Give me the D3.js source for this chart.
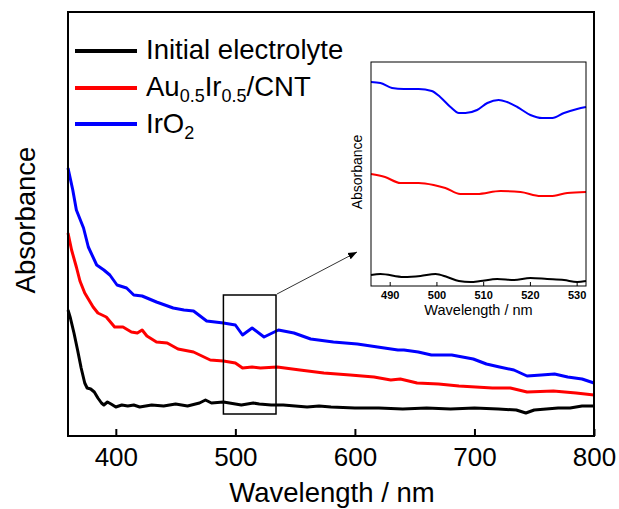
<!DOCTYPE html>
<html><head><meta charset="utf-8">
<script src="https://cdn.jsdelivr.net/npm/d3@7"></script>
<style>body{margin:0;background:#fff}svg{display:block;font-family:"Liberation Sans",Arial,sans-serif}</style>
</head><body><svg id="c" width="619" height="509"></svg>
<script>
// ---- data ----
const seriesNames = ["Initial electrolyte", "Au0.5Ir0.5/CNT", "IrO2"];
const seriesColors = ["#000000", "#ff0000", "#0000ff"];
const xTicks = [400, 500, 600, 700, 800];
const insetTicks = [490, 500, 510, 520, 530];

const blackWl = [360,362,365,368,371,374,376,379,382,385,388,390,393,396,400,405,410,415,420,425,430,440,450,460,470,475,480,490,500,505,510,515,520,530,540,550,560,570,580,600,620,640,660,680,700,720,735,743,750,760,770,780,790,800];
const blackAbs = [1.26,1.18,1.03,0.86,0.68,0.53,0.48,0.47,0.44,0.38,0.33,0.31,0.34,0.32,0.29,0.31,0.30,0.31,0.29,0.30,0.31,0.30,0.32,0.30,0.33,0.36,0.33,0.34,0.32,0.31,0.32,0.33,0.32,0.31,0.31,0.30,0.29,0.30,0.29,0.28,0.28,0.27,0.28,0.27,0.28,0.27,0.26,0.23,0.26,0.27,0.28,0.28,0.30,0.30];

const redWl = [360,363,367,370,374,378,381,385,392,399,406,413,418,422,426,434,443,452,465,479,490,500,506,514,521,535,554,574,596,616,630,638,652,670,687,715,730,744,766,785,800];
const redAbs = [2.03,1.86,1.69,1.55,1.43,1.35,1.29,1.23,1.19,1.09,1.09,1.04,1.03,1.06,1.00,0.94,0.93,0.87,0.84,0.76,0.75,0.73,0.68,0.69,0.68,0.69,0.66,0.63,0.61,0.59,0.56,0.57,0.53,0.52,0.50,0.48,0.48,0.44,0.45,0.43,0.41];

const blueWl = [360,364,367,373,377,384,390,395,401,409,415,422,434,448,457,465,476,490,500,506,514,524,536,549,563,582,602,619,636,641,653,664,681,699,710,721,733,744,756,767,778,790,800];
const blueAbs = [2.68,2.46,2.26,2.08,1.89,1.71,1.66,1.61,1.51,1.48,1.41,1.40,1.34,1.28,1.26,1.25,1.15,1.13,1.11,1.01,1.08,0.99,1.06,1.03,0.97,0.94,0.92,0.89,0.86,0.86,0.84,0.81,0.81,0.77,0.72,0.69,0.66,0.60,0.61,0.62,0.59,0.57,0.53];

// inset (zoomed 486-532 nm)
const insBlueWl = [486,488,490.5,493,496.2,499,500.8,503,504.8,506.2,508.7,510.9,513.3,515.1,517.3,520.1,522.6,524.8,527.3,530.1,532];
const insBlueAbs = [2.04,2.03,1.98,1.97,1.97,1.95,1.89,1.79,1.73,1.73,1.76,1.83,1.86,1.84,1.79,1.71,1.68,1.68,1.73,1.77,1.79];
const insRedWl = [486,489,492.3,496.2,499.4,501.9,505.1,508.7,513.7,518,522.3,524.4,528,532];
const insRedAbs = [1.12,1.09,1.03,1.03,1.01,0.98,0.92,0.92,0.95,0.94,0.90,0.90,0.93,0.94];
const insBlackWl = [486,488,493,496.6,499.8,502.3,504.8,507.3,509.4,513,516.6,520.1,523.7,527.3,530.1,532];
const insBlackAbs = [0.11,0.12,0.09,0.10,0.12,0.09,0.05,0.04,0.05,0.07,0.06,0.08,0.07,0.06,0.04,0.05];

const zoomBox = {x0: 490, x1: 534, y0: 0.22, y1: 1.41};

// ---- drawing ----
const svg = d3.select("#c");
const M = {l: 68, r: 594, t: 12, b: 436};
const x = d3.scaleLinear().domain([360, 800]).range([M.l, M.r]);
const y = d3.scaleLinear().domain([0, 4.24]).range([M.b, M.t]);

const mainSets = [[blackWl, blackAbs], [redWl, redAbs], [blueWl, blueAbs]];
const line = d3.line().x(d => x(d[0])).y(d => y(d[1]));
mainSets.forEach((s, i) => {
  const pts = s[0].map((w, j) => [w, s[1][j]]);
  svg.append("path").attr("d", line(pts)).attr("fill", "none")
    .attr("stroke", seriesColors[i]).attr("stroke-width", 3).attr("stroke-linejoin", "round");
});

// frame
svg.append("rect").attr("x", M.l).attr("y", M.t).attr("width", M.r - M.l).attr("height", M.b - M.t)
  .attr("fill", "none").attr("stroke", "#000").attr("stroke-width", 2);

// x axis
const xa = svg.append("g").attr("transform", `translate(0,${M.b})`)
  .call(d3.axisBottom(x).tickValues(xTicks).tickSize(-7).tickPadding(12).tickFormat(d3.format("d")));
xa.select(".domain").remove();
xa.selectAll("line").attr("stroke-width", 2);
xa.selectAll("text").attr("font-size", 26).attr("font-family", "Liberation Sans, Arial, sans-serif").attr("fill", "#000");

svg.append("text").attr("x", 332).attr("y", 502).attr("text-anchor", "middle")
  .attr("font-size", 27.5).text("Wavelength / nm");
svg.append("text").attr("transform", "translate(35,220) rotate(-90)").attr("text-anchor", "middle")
  .attr("font-size", 27.5).text("Absorbance");

// legend
const legY = [51, 88, 124];
const leg = svg.append("g");
legY.forEach((ly, i) => {
  leg.append("line").attr("x1", 75).attr("x2", 137).attr("y1", ly).attr("y2", ly)
    .attr("stroke", seriesColors[i]).attr("stroke-width", 4);
});
const FS = 27.5, SFS = 18;
leg.append("text").attr("x", 146).attr("y", 59).attr("font-size", FS).text(seriesNames[0]);
const t2 = leg.append("text").attr("x", 146).attr("y", 96).attr("font-size", FS);
t2.append("tspan").text("Au");
t2.append("tspan").attr("font-size", SFS).attr("dy", 6).text("0.5");
t2.append("tspan").attr("dy", -6).text("Ir");
t2.append("tspan").attr("font-size", SFS).attr("dy", 6).text("0.5");
t2.append("tspan").attr("dy", -6).text("/CNT");
const t3 = leg.append("text").attr("x", 146).attr("y", 133).attr("font-size", FS);
t3.append("tspan").text("IrO");
t3.append("tspan").attr("font-size", SFS).attr("dy", 6).text("2");

// zoom box
svg.append("rect").attr("x", x(zoomBox.x0)).attr("y", y(zoomBox.y1))
  .attr("width", x(zoomBox.x1) - x(zoomBox.x0)).attr("height", y(zoomBox.y0) - y(zoomBox.y1))
  .attr("fill", "none").attr("stroke", "#000").attr("stroke-width", 1.5);

// arrow
const defs = svg.append("defs");
defs.append("marker").attr("id", "ah").attr("viewBox", "0 0 10 10").attr("refX", 10).attr("refY", 5)
  .attr("markerWidth", 9).attr("markerHeight", 9).attr("orient", "auto")
  .append("path").attr("d", "M0,1 L10,5 L0,9 Z").attr("fill", "#000");
svg.append("line").attr("x1", x(zoomBox.x1) + 1).attr("y1", y(zoomBox.y1) - 1)
  .attr("x2", 357).attr("y2", 252).attr("stroke", "#333").attr("stroke-width", 1)
  .attr("marker-end", "url(#ah)");

// inset
const I = {l: 371, r: 586, t: 62, b: 286};
const ix = d3.scaleLinear().domain([486, 532]).range([I.l, I.r]);
const iy = d3.scaleLinear().domain([0, 2.24]).range([I.b, I.t]);
svg.append("rect").attr("x", I.l).attr("y", I.t).attr("width", I.r - I.l).attr("height", I.b - I.t)
  .attr("fill", "#fff").attr("stroke", "none");
const insSets = [[insBlackWl, insBlackAbs], [insRedWl, insRedAbs], [insBlueWl, insBlueAbs]];
const iline = d3.line().x(d => ix(d[0])).y(d => iy(d[1])).curve(d3.curveMonotoneX);
insSets.forEach((s, i) => {
  const pts = s[0].map((w, j) => [w, s[1][j]]);
  svg.append("path").attr("d", iline(pts)).attr("fill", "none")
    .attr("stroke", seriesColors[i]).attr("stroke-width", 2);
});
svg.append("rect").attr("x", I.l).attr("y", I.t).attr("width", I.r - I.l).attr("height", I.b - I.t)
  .attr("fill", "none").attr("stroke", "#000").attr("stroke-width", 1);
const ia = svg.append("g").attr("transform", `translate(0,${I.b})`)
  .call(d3.axisBottom(ix).tickValues(insetTicks).tickSize(-4).tickPadding(5).tickFormat(d3.format("d")));
ia.select(".domain").remove();
ia.selectAll("text").attr("font-size", 11).attr("font-weight", "bold").attr("fill", "#000")
  .attr("font-family", "Liberation Sans, Arial, sans-serif");
svg.append("text").attr("x", (I.l + I.r) / 2).attr("y", 315).attr("text-anchor", "middle")
  .attr("font-size", 14.5).text("Wavelength / nm");
svg.append("text").attr("transform", "translate(362,172) rotate(-90)").attr("text-anchor", "middle")
  .attr("font-size", 14).text("Absorbance");
</script></body></html>
